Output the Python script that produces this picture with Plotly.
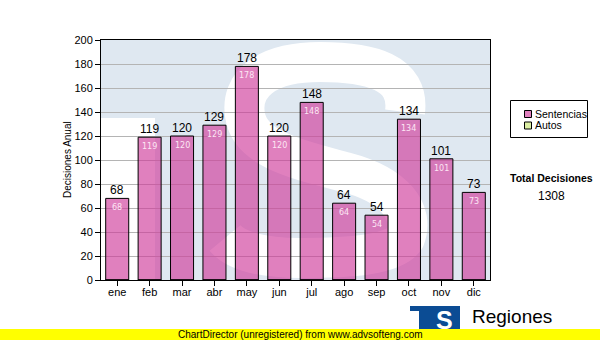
import plotly.graph_objects as go

# ---- data ----
months = ["ene", "feb", "mar", "abr", "may", "jun", "jul", "ago", "sep", "oct", "nov", "dic"]
sentencias = [68, 119, 120, 129, 178, 120, 148, 64, 54, 134, 101, 73]
autos = [0, 0, 0, 0, 0, 0, 0, 0, 0, 0, 0, 0]
series_names = ["Sentencias", "Autos"]
y_ticks = [0, 20, 40, 60, 80, 100, 120, 140, 160, 180, 200]
total = sum(sentencias) + sum(autos)

W, H = 600, 340
L, R, T, B = 101, 110, 40, 60
PX0, PX1, PY0, PY1 = L, W - R, T, H - B

BAR_FILL = "rgba(206,57,153,0.64)"
BAR_SWATCH = "#e080be"
AUTOS_FILL = "#dcefa4"
SANS = "Liberation Sans, Arial"


def fx(px):
    return (px - PX0) / (PX1 - PX0)


def fy(py):
    return (PY1 - py) / (PY1 - PY0)


def path(points_cmds):
    out = []
    for cmd, pts in points_cmds:
        coords = " ".join(f"{fx(x):.4f},{fy(y):.4f}" for x, y in pts)
        out.append(f"{cmd} {coords}")
    return " ".join(out)


def note(px, py, text, size, family=SANS, color="black", xanchor="center", angle=0):
    return dict(xref="paper", yref="paper", x=fx(px), y=fy(py), text=text, showarrow=False,
                xanchor=xanchor, yanchor="middle", textangle=angle,
                font=dict(family=family, size=size, color=color))


fig = go.Figure()
fig.add_trace(go.Bar(
    x=months, y=sentencias, name=series_names[0], showlegend=False,
    marker=dict(color=BAR_FILL, line=dict(color="black", width=1)),
))
fig.add_trace(go.Bar(
    x=months, y=autos, name=series_names[1], showlegend=False,
    marker=dict(color=AUTOS_FILL, line=dict(color="black", width=1)),
    hoverinfo="skip",
))

annotations = []
for m, v in zip(months, sentencias):
    # value above the bar
    annotations.append(dict(
        x=m, y=v, text=str(v), showarrow=False, xanchor="center", yanchor="bottom", yshift=-1,
        font=dict(family=SANS, size=12, color="black"),
    ))
    # value inside the bar
    annotations.append(dict(
        x=m, y=v, text=str(v), showarrow=False, xanchor="center", yanchor="top", yshift=-3,
        font=dict(family="DejaVu Sans", size=8, color="#fde6f4"),
    ))

annotations += [
    note(67, 160, "Decisiones Anual", 10, angle=-90),
    note(551, 178, "<b>Total Decisiones</b>", 10.5),
    note(551, 196, str(total), 12),
    note(300, 334.5, "ChartDirector (unregistered) from www.advsofteng.com", 10),
    note(470, 316, "Regiones", 19, xanchor="left"),
    note(444, 320, "<b>S</b>", 25, color="white"),
    # legend texts
    note(533, 114, series_names[0], 10.5, xanchor="left"),
    note(533, 125.5, series_names[1], 10.5, xanchor="left"),
]

s_path = path([
    ("M", [(405, 112)]),
    ("C", [(410, 72), (370, 62), (320, 62)]),
    ("C", [(265, 62), (240, 85), (245, 115)]),
    ("C", [(250, 150), (300, 160), (345, 172)]),
    ("C", [(395, 185), (415, 212), (405, 238)]),
    ("C", [(395, 255), (350, 258), (300, 258)]),
    ("C", [(260, 258), (235, 250), (225, 238)]),
])


def rect(x0, y0, x1, y1, fill, line_color=None, layer="above"):
    return dict(type="rect", xref="paper", yref="paper", x0=fx(x0), x1=fx(x1), y0=fy(y1), y1=fy(y0),
                fillcolor=fill, layer=layer,
                line=dict(width=1 if line_color else 0, color=line_color or "rgba(0,0,0,0)"))


shapes = [
    rect(PX0, PY0, PX1, PY1, "#dfe8f1", layer="below"),
    rect(101, 118, 155, 280, "white", layer="below"),
    dict(type="path", xref="paper", yref="paper", path=s_path,
         line=dict(color="white", width=40), fillcolor="rgba(0,0,0,0)", layer="below"),
    # legend
    rect(510.5, 100.5, 587.5, 137.5, "white", "black"),
    rect(524.5, 110.5, 531.5, 117.5, BAR_SWATCH, "black"),
    rect(524.5, 122, 531.5, 129, AUTOS_FILL, "black"),
    # logo
    rect(410, 306, 460, 329, "#0b4c94"),
    rect(410, 311, 419, 329, "white"),
    # yellow banner
    rect(-2, 329, 602, 342, "#ffff00"),
]

fig.update_layout(
    width=W, height=H,
    margin=dict(l=L, r=R, t=T, b=B, pad=0, autoexpand=False),
    paper_bgcolor="white", plot_bgcolor="white",
    barmode="overlay", bargap=0.29,
    showlegend=False,
    annotations=annotations, shapes=shapes,
    font=dict(family=SANS, size=11, color="black"),
)
fig.update_xaxes(
    type="category", showline=True, linecolor="black", linewidth=1, mirror=True,
    ticks="outside", ticklen=5, tickcolor="black", showgrid=False,
    ticklabelstandoff=-3,
    tickfont=dict(family=SANS, size=11, color="black"),
)
fig.update_yaxes(
    range=[0, 200], tickvals=y_ticks, showline=True, linecolor="black", linewidth=1, mirror=True,
    ticks="outside", ticklen=5, tickcolor="black",
    showgrid=True, gridcolor="#b4b4b4", gridwidth=1, zeroline=False,
    tickfont=dict(family=SANS, size=11, color="black"),
)

fig.write_html("out.html", config={"displayModeBar": False},
               post_script="document.body.style.margin='0';document.body.style.overflow='hidden';")
